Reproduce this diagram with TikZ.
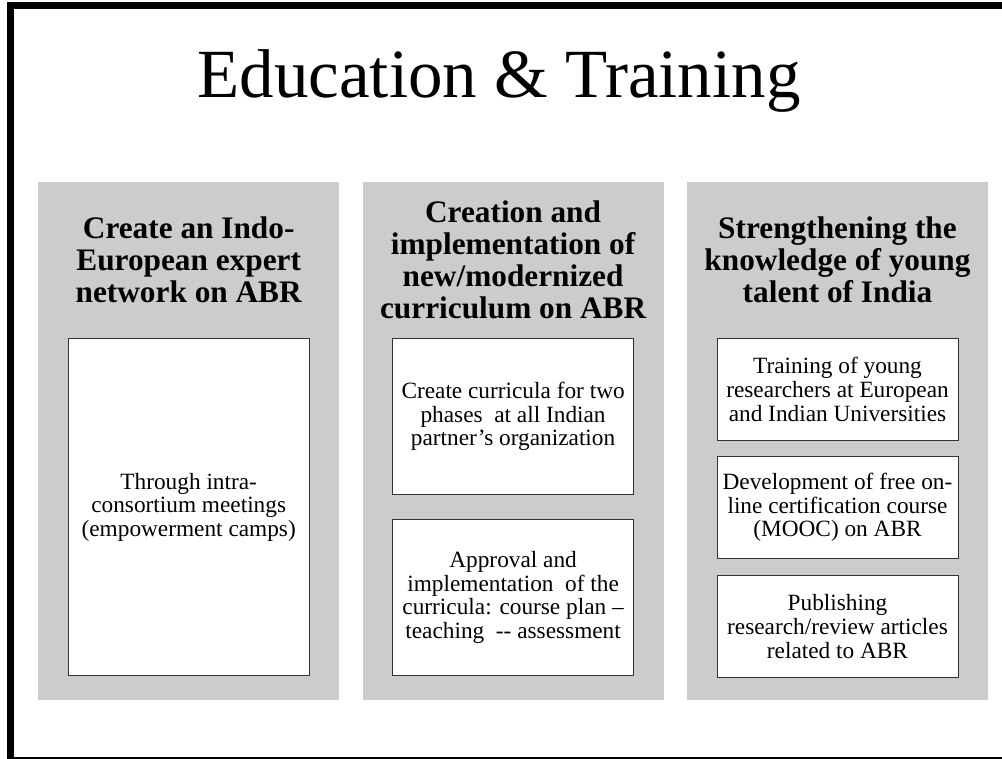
\documentclass[tikz,border=0pt]{standalone}
\usepackage{fontspec}
\setmainfont{Liberation Serif}
\usepackage{tikz}
\usetikzlibrary{positioning}

\begin{document}
\begin{tikzpicture}[x=1pt, y=1pt,
      panel/.style={fill=black!20, minimum width=301pt, minimum height=518pt,
        inner sep=0pt, anchor=north west},
      head/.style={align=center, inner sep=0pt, font=\fontsize{31.3}{32}\selectfont\bfseries},
      cell/.style={draw=black!80, line width=1pt, fill=white, minimum width=241pt,
        inner sep=0pt, align=center, font=\fontsize{23.3}{23.6}\selectfont}]
    \useasboundingbox (0,0) rectangle (1002,-759);
    % slide frame
    \fill[black] (7,-2) rectangle (14,-759);
    \fill[black] (7,-2) rectangle (1002,-9);
    \fill[black] (7,-756.5) rectangle (1002,-759);
    \node[anchor=base, inner sep=0pt, font=\fontsize{69}{71}\selectfont] (title) at (499,-98) {Education \& Training};
    % three columns
    \node[panel] (p1) at (38,-182) {};
    \node[panel, right=23pt of p1] (p2) {};
    \node[panel, right=23pt of p2] (p3) {};
    \node[head] (h1) at ([yshift=-78pt]p1.north) {Create an Indo-\\ European expert\\ network on ABR};
    \node[head] (h2) at ([yshift=-78pt]p2.north) {Creation and\\ implementation of\\ new/modernized\\ curriculum on ABR};
    \node[head] (h3) at ([yshift=-78pt]p3.north) {Strengthening the\\ knowledge of young\\ talent of India};
    \node[cell, minimum height=337pt, below=156pt of p1.north] (meet) {Through intra-\\ consortium meetings\\ (empowerment camps)};
    \node[cell, minimum height=156pt, below=156pt of p2.north] (curr) {Create curricula for two\\ phases\ \ at all Indian\\ partner’s organization};
    \node[cell, minimum height=156pt, below=24pt of curr] (appr) {Approval and\\ implementation\ \ of the\\ curricula: course plan --\\ teaching\ \ -{}- assessment};
    \node[cell, minimum height=102pt, below=156pt of p3.north] (train) {Training of young\\ researchers at European\\ and Indian Universities};
    \node[cell, minimum height=102pt, below=15pt of train] (mooc) {Development of free on-\\ line certification course\\ (MOOC) on ABR};
    \node[cell, minimum height=102pt, below=16pt of mooc] (pub) {Publishing\\ research/review articles\\ related to ABR};
  \end{tikzpicture}
\end{document}
